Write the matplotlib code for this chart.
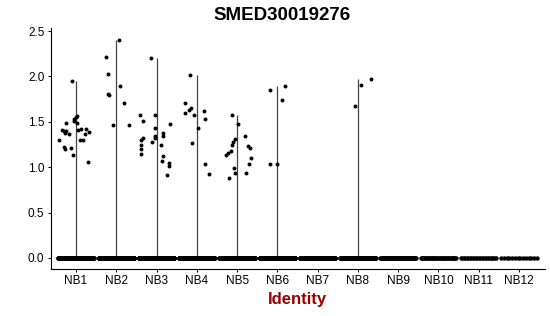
import numpy as np
import matplotlib
matplotlib.use('Agg')
import matplotlib.pyplot as plt

plt.rcParams['font.family'] = ['Liberation Sans', 'DejaVu Sans']

clusters = ['NB1', 'NB2', 'NB3', 'NB4', 'NB5', 'NB6', 'NB7', 'NB8', 'NB9', 'NB10', 'NB11', 'NB12']
# number of cells with zero expression per cluster (approximate)
zero_counts = [300, 300, 300, 300, 300, 250, 150, 200, 60, 40, 25, 14]

# non-zero expression values and their jitter offsets
nb1_vals = [1.95, 1.30, 1.41, 1.40, 1.38, 1.49, 1.40, 1.37, 1.22, 1.20, 1.21, 1.13, 1.53,
            1.55, 1.56, 1.51, 1.49, 1.41, 1.42, 1.30, 1.30, 1.37, 1.42, 1.39, 1.06]
nb1_jit = [-0.11, -0.41, -0.36, -0.30, -0.28, -0.24, -0.24, -0.17, -0.29, -0.27, -0.12, -0.07, -0.04,
           0.0, 0.02, -0.04, 0.02, 0.04, 0.12, 0.09, 0.17, 0.22, 0.25, 0.32, 0.31]
nb2_vals = [2.40, 2.21, 2.03, 1.81, 1.80, 1.46, 1.89, 1.71, 1.46]
nb2_jit = [0.08, -0.26, -0.21, -0.21, -0.19, -0.09, 0.09, 0.20, 0.31]
nb3_vals = [2.20, 1.57, 1.51, 1.32, 1.30, 1.24, 1.20, 1.15, 1.28, 1.57, 1.43, 1.34, 1.32,
            1.24, 1.38, 1.34, 1.12, 1.07, 1.05, 1.01, 0.91, 1.48]
nb3_jit = [-0.13, -0.41, -0.33, -0.33, -0.39, -0.38, -0.38, -0.38, -0.12, -0.04, -0.05, -0.04, -0.04,
           0.12, 0.16, 0.15, 0.17, 0.13, 0.32, 0.30, 0.25, 0.34]
nb4_vals = [2.02, 1.71, 1.60, 1.63, 1.65, 1.57, 1.43, 1.27, 1.62, 1.53, 1.03, 0.93]
nb4_jit = [-0.18, -0.30, -0.29, -0.19, -0.14, -0.07, 0.02, -0.13, 0.19, 0.20, 0.21, 0.30]
nb5_vals = [1.58, 1.48, 1.31, 1.28, 1.24, 1.18, 1.16, 1.14, 1.34, 1.23, 1.21, 1.10, 1.03,
            0.99, 0.94, 0.88, 0.94]
nb5_jit = [-0.13, 0.03, -0.05, -0.09, -0.12, -0.15, -0.23, -0.27, 0.20, 0.28, 0.33, 0.34, 0.30,
           -0.07, -0.05, -0.19, 0.23]
nb6_vals = [1.85, 1.89, 1.74, 1.03, 1.04]
nb6_jit = [-0.19, 0.20, 0.11, -0.18, -0.01]
nb8_vals = [1.67, 1.91, 1.97]
nb8_jit = [-0.06, 0.08, 0.33]

nonzero = {
    'NB1': (nb1_vals, nb1_jit), 'NB2': (nb2_vals, nb2_jit), 'NB3': (nb3_vals, nb3_jit),
    'NB4': (nb4_vals, nb4_jit), 'NB5': (nb5_vals, nb5_jit), 'NB6': (nb6_vals, nb6_jit),
    'NB8': (nb8_vals, nb8_jit),
}

fig = plt.figure(figsize=(5.5, 3.16), dpi=100)
ax = fig.add_axes([0.0922, 0.148, 0.899, 0.764])

for i, name in enumerate(clusters):
    pos = i + 1
    # thin violin: just a line up to the max
    if name in nonzero:
        vals, jit = nonzero[name]
        ax.vlines(pos, 0, max(vals), color='#444444', lw=0.9, zorder=1)
        ax.scatter(pos + np.array(jit), vals, s=8, color='black', lw=0, zorder=3)
    zx = pos + np.linspace(-0.44, 0.44, zero_counts[i])
    ax.scatter(zx, np.zeros(zero_counts[i]), s=10, color='black', lw=0, zorder=3)

ax.set_xlim(0.372, 12.65)
ax.set_ylim(-0.124, 2.536)
ax.set_xticks(range(1, 13))
ax.set_xticklabels(clusters)
ax.set_yticks([0, 0.5, 1.0, 1.5, 2.0, 2.5])
ax.set_yticklabels(['0.0', '0.5', '1.0', '1.5', '2.0', '2.5'])
ax.tick_params(labelsize=8.5, length=2.5, width=0.75, colors='black', pad=2)
for s in ['top', 'right']:
    ax.spines[s].set_visible(False)
for s in ['left', 'bottom']:
    ax.spines[s].set_linewidth(0.8)

ax.set_xlabel('Identity', fontsize=12, fontweight='bold', color='#990000', labelpad=3)
fig.text(282.5 / 550, 1 - 15 / 316, 'SMED30019276', ha='center', va='center',
         fontsize=13.5, fontweight='bold')

fig.savefig('out.png', dpi=100)
